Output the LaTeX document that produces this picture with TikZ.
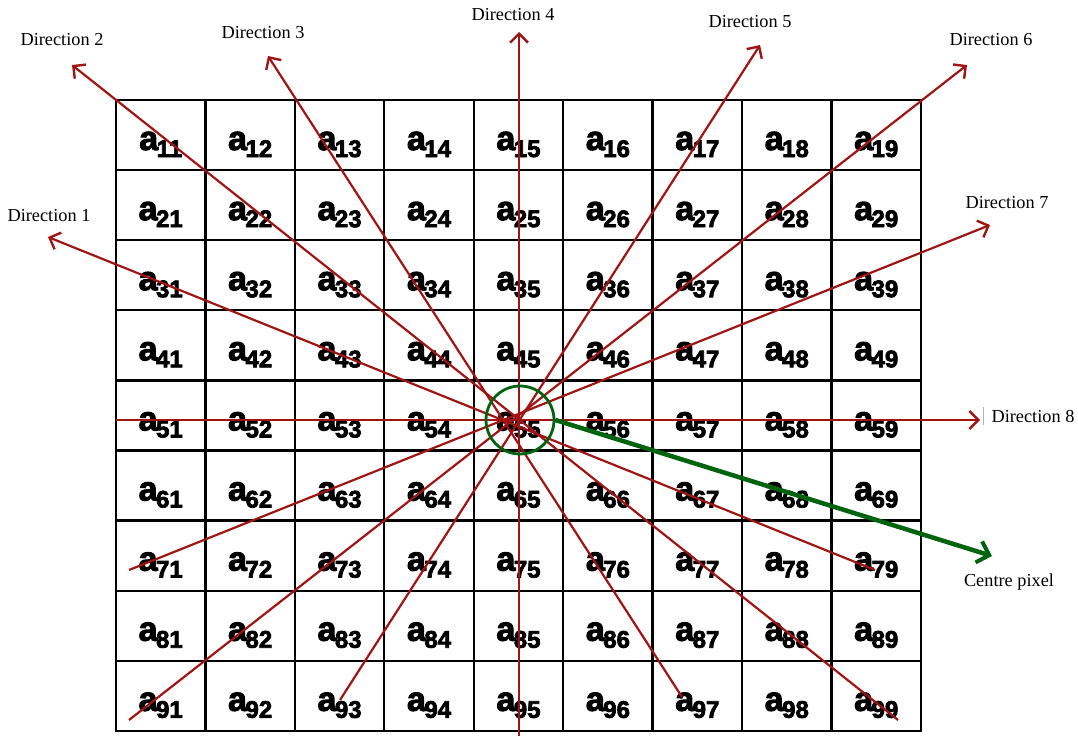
\documentclass[tikz,border=0pt]{standalone}
\usepackage{fontspec}
\setmainfont{Liberation Serif}
\newfontfamily\cellfont{Liberation Sans Bold}[FakeBold=3]
\usetikzlibrary{arrows.meta}
\definecolor{dred}{RGB}{160,20,20}
\definecolor{dgreen}{RGB}{0,100,15}
\newcommand\aij[1]{a\kern-1.5pt\raisebox{-7pt}{\fontsize{24}{24}\selectfont #1}}
\begin{document}
\begin{tikzpicture}[x=1pt,y=-1pt,
  gridline/.style={line width=2.3pt, draw=black},
  celltext/.style={font=\cellfont\fontsize{34}{34}\selectfont, anchor=base, inner sep=0pt},
  dirline/.style={line width=2.2pt, draw=dred, -{Straight Barb[length=9pt,width=18pt,line width=2.4pt]}},
  dirlabel/.style={font=\fontsize{18.3}{20}\selectfont, inner sep=0pt},
  greenline/.style={line width=4.5pt, draw=dgreen, -{Straight Barb[length=11pt,width=22pt,line width=4pt]}}]
\useasboundingbox (0,0) rectangle (1078,736);
% grid
\foreach \i in {1,...,8}{
  \draw[gridline] ({116+89.44*\i},100) -- ({116+89.44*\i},731);
  \draw[gridline] (116,{100+70.1*\i}) -- (921,{100+70.1*\i});
}
\draw[line width=2.8pt] (116,100) rectangle (921,731);
% cell labels
\foreach \r in {1,...,9}{\foreach \c in {1,...,9}{
  \node[celltext] (c\r\c) at ({116+89.44*(\c-0.5)},{100+70.1*(\r-1)+50}) {\aij{\r\c}};
}}
% direction end points
\coordinate (s1) at (875,570); \coordinate (e1) at (48,237);
\coordinate (s2) at (898,720); \coordinate (e2) at (72,65);
\coordinate (s3) at (682,697); \coordinate (e3) at (268,56);
\coordinate (s4) at (519,736); \coordinate (e4) at (519,32);
\coordinate (s5) at (340,700); \coordinate (e5) at (760,45);
\coordinate (s6) at (129,720); \coordinate (e6) at (967,65);
\coordinate (s7) at (129,570); \coordinate (e7) at (990,225);
\coordinate (s8) at (116,420); \coordinate (e8) at (980,420);
\foreach \k in {1,...,8}{ \draw[dirline] (s\k) -- (e\k); }
% labels
\node[dirlabel] (l1) at (49,216) {Direction 1};
\node[dirlabel] (l2) at (62,40) {Direction 2};
\node[dirlabel] (l3) at (263,33) {Direction 3};
\node[dirlabel] (l4) at (513,15) {Direction 4};
\node[dirlabel] (l5) at (750,22) {Direction 5};
\node[dirlabel] (l6) at (991,40) {Direction 6};
\node[dirlabel] (l7) at (1007,203) {Direction 7};
\node[dirlabel] (l8) at (1033,416) {Direction 8};
\node[dirlabel] (lc) at (1009,582) {Centre pixel};
\draw[gray!60, line width=0.6pt] (983,407) -- (983,425);
% centre pixel
\node[circle, draw=dgreen, line width=2.8pt, minimum size=68pt, inner sep=0pt] (ring) at (520,420) {};
\coordinate (ce) at (992,556);
\draw[greenline] (ring.east) -- (ce);
\end{tikzpicture}
\end{document}
